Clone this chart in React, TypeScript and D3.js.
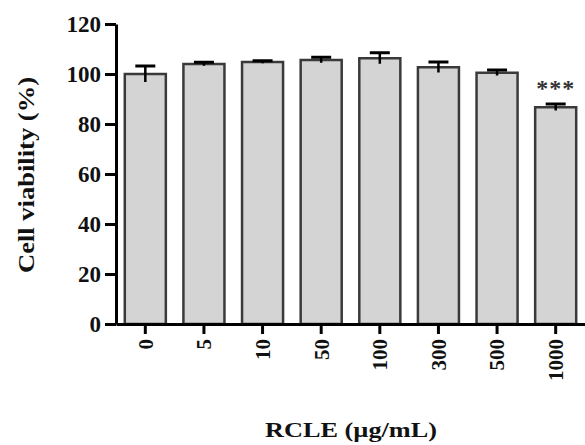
import React, { useEffect, useRef } from 'react';
import * as d3 from 'd3';

const doses = ['0', '5', '10', '50', '100', '300', '500', '1000'];
const viability = [100, 104, 104.8, 105.6, 106.3, 102.7, 100.5, 86.7];
const sem = [3.2, 0.7, 0.5, 1.1, 2.2, 2.1, 1.1, 1.3];
const yTicks = [0, 20, 40, 60, 80, 100, 120];
const marks = ['', '', '', '', '', '', '', '***'];

const W = 585;
const H = 445;
const font = '"Liberation Serif", "Times New Roman", serif';

const App = () => {
  const ref = useRef<SVGGElement>(null);

  useEffect(() => {
    const g = d3.select(ref.current);
    g.selectAll('*').remove();

    const x = d3.scaleBand().domain(doses).range([116, 585]).paddingInner(0.3).paddingOuter(0.15);
    const y = d3.scaleLinear().domain([0, 120]).range([324, 24]);

    const data = doses.map((d, i) => ({ dose: d, v: viability[i], e: sem[i], mark: marks[i] }));

    // bars
    g.selectAll('rect.bar')
      .data(data)
      .enter()
      .append('rect')
      .attr('class', 'bar')
      .attr('x', d => x(d.dose)!)
      .attr('y', d => y(d.v))
      .attr('width', x.bandwidth())
      .attr('height', d => y(0) - y(d.v))
      .attr('fill', '#d4d4d4')
      .attr('stroke', '#3a3a3a')
      .attr('stroke-width', 2.5);

    // error bars
    const err = g.selectAll('g.err').data(data).enter().append('g').attr('class', 'err');
    err
      .append('line')
      .attr('x1', d => x(d.dose)! + x.bandwidth() / 2)
      .attr('x2', d => x(d.dose)! + x.bandwidth() / 2)
      .attr('y1', d => y(d.v - d.e))
      .attr('y2', d => y(d.v + d.e))
      .attr('stroke', '#000')
      .attr('stroke-width', 2.5);
    err
      .append('line')
      .attr('x1', d => x(d.dose)! + x.bandwidth() / 2 - 10)
      .attr('x2', d => x(d.dose)! + x.bandwidth() / 2 + 10)
      .attr('y1', d => y(d.v + d.e))
      .attr('y2', d => y(d.v + d.e))
      .attr('stroke', '#000')
      .attr('stroke-width', 3);

    // significance
    g.selectAll('text.sig')
      .data(data.filter(d => d.mark))
      .enter()
      .append('text')
      .attr('class', 'sig')
      .attr('x', d => x(d.dose)! + x.bandwidth() / 2)
      .attr('y', d => y(d.v + d.e) - 8)
      .attr('text-anchor', 'middle')
      .attr('font-family', font)
      .attr('font-weight', 'bold')
      .attr('font-size', 24)
      .attr('letter-spacing', 1)
      .attr('fill', '#333')
      .text(d => d.mark);

    // y axis
    const yAxis = g
      .append('g')
      .attr('transform', 'translate(116,0)')
      .call(d3.axisLeft(y).tickValues(yTicks).tickSize(11).tickSizeOuter(0).tickPadding(4));
    yAxis.select('.domain').attr('stroke', '#000').attr('stroke-width', 3);
    yAxis.selectAll('.tick line').attr('stroke', '#000').attr('stroke-width', 3);
    yAxis
      .selectAll('.tick text')
      .attr('font-family', font)
      .attr('font-weight', 'bold')
      .attr('font-size', 23)
      .attr('fill', '#111');

    // x axis
    const xAxis = g
      .append('g')
      .attr('transform', 'translate(0,324)')
      .call(d3.axisBottom(x).tickSize(10).tickSizeOuter(0));
    xAxis.select('.domain').attr('stroke', '#000').attr('stroke-width', 3);
    xAxis.selectAll('.tick line').attr('stroke', '#000').attr('stroke-width', 3);
    xAxis
      .selectAll('.tick text')
      .attr('font-family', font)
      .attr('font-weight', 'bold')
      .attr('font-size', 21)
      .attr('fill', '#111')
      .attr('text-anchor', 'end')
      .attr('dy', '0.35em')
      .attr('transform', 'translate(0,15) rotate(-90)')
      .attr('x', 0)
      .attr('y', 0);

    // titles
    g.append('text')
      .attr('transform', 'translate(26,175) rotate(-90)')
      .attr('text-anchor', 'middle')
      .attr('dy', '0.35em')
      .attr('font-family', font)
      .attr('font-weight', 'bold')
      .attr('font-size', 23)
      .attr('textLength', 196)
      .attr('lengthAdjust', 'spacingAndGlyphs')
      .attr('fill', '#111')
      .text('Cell viability (%)');

    g.append('text')
      .attr('x', 351)
      .attr('y', 437)
      .attr('text-anchor', 'middle')
      .attr('font-family', font)
      .attr('font-weight', 'bold')
      .attr('font-size', 22)
      .attr('textLength', 172)
      .attr('lengthAdjust', 'spacingAndGlyphs')
      .attr('fill', '#111')
      .text('RCLE (µg/mL)');
  }, []);

  return (
    <svg width={W} height={H} style={{ position: 'absolute', left: 0, top: 0, background: '#fff' }}>
      <g ref={ref} />
    </svg>
  );
};

export default App;
